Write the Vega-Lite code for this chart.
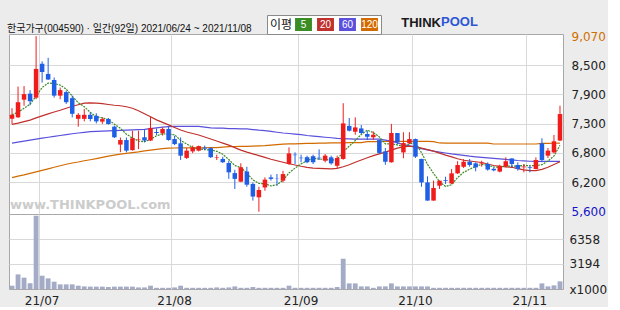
{
  "$schema": "https://vega.github.io/schema/vega-lite/v6.json",
  "background": "#ececec",
  "padding": {"left": 6, "top": 14, "right": 0, "bottom": 0},
  "spacing": 0,
  "bounds": "flush",
  "title": {"text": "POOL", "anchor": "start", "frame": "group", "fontSize": 13, "fontWeight": "bold", "font": "Liberation Sans", "color": "#2b56d6", "dx": 432, "dy": 18, "offset": 4},
  "config": {
    "view": {"stroke": "#a8a8a8", "fill": "white", "strokeWidth": 1},
    "font": "DejaVu Sans",
    "axis": {"gridColor": "#d9d9d9", "labelFont": "DejaVu Sans", "labelFontSize": 12, "labelColor": "#222", "ticks": false, "domain": false, "labelOverlap": false}
  },
  "data": {"values": [
    {"d":"2021-06-24","o":7430,"h":7640,"l":7330,"c":7510,"v":420,"m5":7510,"m20":7320,"m60":6950,"m120":6265},
    {"d":"2021-06-25","o":7460,"h":8070,"l":7450,"c":7760,"v":1860,"m5":7560,"m20":7345,"m60":6970,"m120":6295},
    {"d":"2021-06-28","o":7810,"h":8080,"l":7690,"c":7920,"v":1440,"m5":7640,"m20":7375,"m60":6990,"m120":6320},
    {"d":"2021-06-29","o":7930,"h":8000,"l":7700,"c":7780,"v":720,"m5":7720,"m20":7405,"m60":7010,"m120":6350},
    {"d":"2021-06-30","o":7850,"h":9070,"l":7820,"c":8420,"v":9320,"m5":7880,"m20":7450,"m60":7030,"m120":6380},
    {"d":"2021-07-01","o":8520,"h":8570,"l":8150,"c":8360,"v":1690,"m5":8050,"m20":7490,"m60":7048,"m120":6410},
    {"d":"2021-07-02","o":8320,"h":8640,"l":8200,"c":8210,"v":1350,"m5":8140,"m20":7530,"m60":7065,"m120":6440},
    {"d":"2021-07-05","o":8200,"h":8250,"l":7850,"c":7890,"v":930,"m5":8130,"m20":7565,"m60":7083,"m120":6470},
    {"d":"2021-07-06","o":7890,"h":8050,"l":7820,"c":8000,"v":590,"m5":8100,"m20":7600,"m60":7100,"m120":6500},
    {"d":"2021-07-07","o":7960,"h":7990,"l":7725,"c":7760,"v":590,"m5":8020,"m20":7640,"m60":7118,"m120":6530},
    {"d":"2021-07-08","o":7840,"h":7890,"l":7460,"c":7530,"v":590,"m5":7880,"m20":7680,"m60":7135,"m120":6555},
    {"d":"2021-07-09","o":7430,"h":7545,"l":7275,"c":7510,"v":420,"m5":7750,"m20":7710,"m60":7150,"m120":6575},
    {"d":"2021-07-12","o":7430,"h":7625,"l":7380,"c":7510,"v":330,"m5":7670,"m20":7740,"m60":7163,"m120":6600},
    {"d":"2021-07-13","o":7510,"h":7560,"l":7380,"c":7427,"v":300,"m5":7560,"m20":7745,"m60":7175,"m120":6620},
    {"d":"2021-07-14","o":7490,"h":7540,"l":7340,"c":7380,"v":300,"m5":7470,"m20":7740,"m60":7180,"m120":6640},
    {"d":"2021-07-15","o":7375,"h":7460,"l":7330,"c":7425,"v":300,"m5":7450,"m20":7730,"m60":7185,"m120":6665},
    {"d":"2021-07-16","o":7427,"h":7447,"l":7315,"c":7328,"v":250,"m5":7414,"m20":7715,"m60":7190,"m120":6690},
    {"d":"2021-07-19","o":7275,"h":7295,"l":7050,"c":7065,"v":300,"m5":7325,"m20":7700,"m60":7196,"m120":6710},
    {"d":"2021-07-20","o":6920,"h":7060,"l":6770,"c":7010,"v":300,"m5":7242,"m20":7690,"m60":7200,"m120":6730},
    {"d":"2021-07-21","o":7010,"h":7060,"l":6766,"c":6800,"v":300,"m5":7126,"m20":7670,"m60":7205,"m120":6745},
    {"d":"2021-07-22","o":6810,"h":7195,"l":6800,"c":7045,"v":300,"m5":7050,"m20":7640,"m60":7210,"m120":6760},
    {"d":"2021-07-23","o":7020,"h":7195,"l":6830,"c":7030,"v":200,"m5":6990,"m20":7590,"m60":7215,"m120":6775},
    {"d":"2021-07-26","o":7065,"h":7210,"l":6965,"c":7000,"v":200,"m5":6977,"m20":7530,"m60":7222,"m120":6795},
    {"d":"2021-07-27","o":7000,"h":7470,"l":6990,"c":7250,"v":420,"m5":7025,"m20":7470,"m60":7235,"m120":6810},
    {"d":"2021-07-28","o":7170,"h":7240,"l":7110,"c":7150,"v":150,"m5":7095,"m20":7410,"m60":7250,"m120":6825},
    {"d":"2021-07-29","o":7145,"h":7260,"l":7100,"c":7230,"v":150,"m5":7132,"m20":7360,"m60":7265,"m120":6840},
    {"d":"2021-07-30","o":7230,"h":7275,"l":6997,"c":7010,"v":150,"m5":7128,"m20":7310,"m60":7275,"m120":6850},
    {"d":"2021-08-02","o":7030,"h":7095,"l":6910,"c":6930,"v":200,"m5":7114,"m20":7260,"m60":7280,"m120":6852},
    {"d":"2021-08-03","o":6945,"h":7060,"l":6615,"c":6700,"v":420,"m5":7004,"m20":7210,"m60":7282,"m120":6853},
    {"d":"2021-08-04","o":6655,"h":6850,"l":6635,"c":6800,"v":150,"m5":6934,"m20":7170,"m60":7282,"m120":6854},
    {"d":"2021-08-05","o":6785,"h":6900,"l":6750,"c":6865,"v":150,"m5":6861,"m20":7140,"m60":7282,"m120":6855},
    {"d":"2021-08-06","o":6800,"h":6900,"l":6785,"c":6890,"v":150,"m5":6837,"m20":7110,"m60":7282,"m120":6856},
    {"d":"2021-08-09","o":6860,"h":6900,"l":6810,"c":6840,"v":150,"m5":6819,"m20":7070,"m60":7265,"m120":6857},
    {"d":"2021-08-10","o":6850,"h":6865,"l":6655,"c":6670,"v":150,"m5":6813,"m20":7030,"m60":7250,"m120":6858},
    {"d":"2021-08-11","o":6660,"h":6720,"l":6615,"c":6670,"v":200,"m5":6787,"m20":6990,"m60":7248,"m120":6860},
    {"d":"2021-08-12","o":6635,"h":6680,"l":6555,"c":6570,"v":150,"m5":6728,"m20":6950,"m60":7245,"m120":6870},
    {"d":"2021-08-13","o":6555,"h":6600,"l":6240,"c":6370,"v":200,"m5":6624,"m20":6910,"m60":7238,"m120":6880},
    {"d":"2021-08-17","o":6355,"h":6420,"l":6040,"c":6240,"v":330,"m5":6504,"m20":6860,"m60":7235,"m120":6882},
    {"d":"2021-08-18","o":6185,"h":6550,"l":6175,"c":6470,"v":150,"m5":6464,"m20":6810,"m60":7232,"m120":6884},
    {"d":"2021-08-19","o":6385,"h":6480,"l":6085,"c":6125,"v":150,"m5":6355,"m20":6770,"m60":7230,"m120":6886},
    {"d":"2021-08-20","o":6140,"h":6170,"l":5810,"c":5890,"v":250,"m5":6219,"m20":6735,"m60":7218,"m120":6890},
    {"d":"2021-08-23","o":5875,"h":6085,"l":5590,"c":6020,"v":150,"m5":6149,"m20":6700,"m60":7205,"m120":6895},
    {"d":"2021-08-24","o":6070,"h":6270,"l":6005,"c":6225,"v":150,"m5":6146,"m20":6665,"m60":7196,"m120":6900},
    {"d":"2021-08-25","o":6270,"h":6323,"l":6205,"c":6240,"v":150,"m5":6100,"m20":6630,"m60":7180,"m120":6910},
    {"d":"2021-08-26","o":6250,"h":6337,"l":6105,"c":6245,"v":150,"m5":6124,"m20":6600,"m60":7165,"m120":6920},
    {"d":"2021-08-27","o":6205,"h":6400,"l":6170,"c":6335,"v":150,"m5":6213,"m20":6570,"m60":7150,"m120":6930},
    {"d":"2021-08-30","o":6535,"h":6865,"l":6520,"c":6745,"v":420,"m5":6358,"m20":6540,"m60":7140,"m120":6933},
    {"d":"2021-08-31","o":6720,"h":6766,"l":6535,"c":6710,"v":150,"m5":6455,"m20":6515,"m60":7128,"m120":6936},
    {"d":"2021-09-01","o":6660,"h":6720,"l":6570,"c":6650,"v":150,"m5":6537,"m20":6490,"m60":7116,"m120":6940},
    {"d":"2021-09-02","o":6670,"h":6700,"l":6550,"c":6570,"v":150,"m5":6602,"m20":6470,"m60":7100,"m120":6942},
    {"d":"2021-09-03","o":6690,"h":6720,"l":6535,"c":6570,"v":150,"m5":6649,"m20":6455,"m60":7088,"m120":6945},
    {"d":"2021-09-06","o":6660,"h":6825,"l":6615,"c":6650,"v":150,"m5":6630,"m20":6450,"m60":7076,"m120":6948},
    {"d":"2021-09-07","o":6600,"h":6733,"l":6568,"c":6700,"v":150,"m5":6628,"m20":6445,"m60":7065,"m120":6950},
    {"d":"2021-09-08","o":6667,"h":6700,"l":6522,"c":6548,"v":150,"m5":6608,"m20":6440,"m60":7055,"m120":6955},
    {"d":"2021-09-09","o":6500,"h":6700,"l":6455,"c":6655,"v":250,"m5":6625,"m20":6450,"m60":7044,"m120":6955},
    {"d":"2021-09-10","o":6635,"h":7740,"l":6620,"c":7340,"v":3850,"m5":6779,"m20":6480,"m60":7038,"m120":6955},
    {"d":"2021-09-13","o":7290,"h":7447,"l":7180,"c":7195,"v":715,"m5":6888,"m20":6520,"m60":7034,"m120":6958},
    {"d":"2021-09-14","o":7175,"h":7460,"l":7115,"c":7260,"v":715,"m5":7000,"m20":6570,"m60":7030,"m120":6960},
    {"d":"2021-09-15","o":7240,"h":7308,"l":7130,"c":7150,"v":330,"m5":7120,"m20":6614,"m60":7030,"m120":6960},
    {"d":"2021-09-16","o":7130,"h":7195,"l":7010,"c":7075,"v":330,"m5":7204,"m20":6660,"m60":7030,"m120":6978},
    {"d":"2021-09-17","o":7065,"h":7180,"l":7010,"c":7115,"v":150,"m5":7159,"m20":6700,"m60":7030,"m120":6980},
    {"d":"2021-09-23","o":7010,"h":7010,"l":6733,"c":6755,"v":330,"m5":7071,"m20":6735,"m60":7030,"m120":6980},
    {"d":"2021-09-24","o":6785,"h":6852,"l":6520,"c":6580,"v":330,"m5":6935,"m20":6770,"m60":7010,"m120":6982},
    {"d":"2021-09-27","o":6570,"h":7330,"l":6560,"c":7150,"v":715,"m5":6935,"m20":6810,"m60":6990,"m120":6983},
    {"d":"2021-09-28","o":7150,"h":7150,"l":6930,"c":6965,"v":330,"m5":6913,"m20":6850,"m60":6955,"m120":6984},
    {"d":"2021-09-29","o":6765,"h":7165,"l":6650,"c":6950,"v":330,"m5":6880,"m20":6875,"m60":6920,"m120":6985},
    {"d":"2021-09-30","o":6945,"h":7165,"l":6930,"c":7030,"v":330,"m5":6935,"m20":6890,"m60":6893,"m120":6985},
    {"d":"2021-10-01","o":7030,"h":7040,"l":6655,"c":6680,"v":330,"m5":6955,"m20":6880,"m60":6866,"m120":6985},
    {"d":"2021-10-05","o":6635,"h":6640,"l":6085,"c":6170,"v":330,"m5":6759,"m20":6850,"m60":6840,"m120":6985},
    {"d":"2021-10-06","o":6170,"h":6290,"l":5808,"c":5810,"v":330,"m5":6528,"m20":6820,"m60":6815,"m120":6985},
    {"d":"2021-10-07","o":5810,"h":6205,"l":5808,"c":6060,"v":150,"m5":6350,"m20":6790,"m60":6790,"m120":6980},
    {"d":"2021-10-08","o":6105,"h":6210,"l":6040,"c":6205,"v":150,"m5":6185,"m20":6750,"m60":6772,"m120":6952},
    {"d":"2021-10-12","o":6215,"h":6283,"l":6138,"c":6200,"v":150,"m5":6089,"m20":6710,"m60":6753,"m120":6950},
    {"d":"2021-10-13","o":6150,"h":6435,"l":6138,"c":6350,"v":150,"m5":6125,"m20":6675,"m60":6735,"m120":6950},
    {"d":"2021-10-14","o":6350,"h":6590,"l":6337,"c":6515,"v":150,"m5":6266,"m20":6640,"m60":6720,"m120":6950},
    {"d":"2021-10-15","o":6480,"h":6634,"l":6456,"c":6580,"v":150,"m5":6370,"m20":6610,"m60":6705,"m120":6950},
    {"d":"2021-10-18","o":6580,"h":6634,"l":6482,"c":6515,"v":150,"m5":6432,"m20":6595,"m60":6690,"m120":6950},
    {"d":"2021-10-19","o":6548,"h":6568,"l":6390,"c":6469,"v":150,"m5":6486,"m20":6580,"m60":6678,"m120":6950},
    {"d":"2021-10-20","o":6545,"h":6600,"l":6482,"c":6560,"v":150,"m5":6528,"m20":6565,"m60":6667,"m120":6950},
    {"d":"2021-10-21","o":6535,"h":6568,"l":6403,"c":6425,"v":150,"m5":6510,"m20":6535,"m60":6657,"m120":6950},
    {"d":"2021-10-22","o":6440,"h":6469,"l":6390,"c":6410,"v":150,"m5":6476,"m20":6505,"m60":6647,"m120":6932},
    {"d":"2021-10-25","o":6385,"h":6522,"l":6370,"c":6500,"v":150,"m5":6473,"m20":6490,"m60":6636,"m120":6932},
    {"d":"2021-10-26","o":6490,"h":6667,"l":6469,"c":6590,"v":150,"m5":6497,"m20":6480,"m60":6626,"m120":6932},
    {"d":"2021-10-27","o":6645,"h":6647,"l":6470,"c":6535,"v":150,"m5":6492,"m20":6470,"m60":6615,"m120":6932},
    {"d":"2021-10-28","o":6515,"h":6568,"l":6403,"c":6435,"v":150,"m5":6494,"m20":6445,"m60":6605,"m120":6932},
    {"d":"2021-10-29","o":6470,"h":6535,"l":6370,"c":6485,"v":150,"m5":6509,"m20":6420,"m60":6598,"m120":6932},
    {"d":"2021-11-01","o":6470,"h":6502,"l":6370,"c":6455,"v":150,"m5":6500,"m20":6405,"m60":6590,"m120":6932},
    {"d":"2021-11-02","o":6435,"h":6667,"l":6430,"c":6615,"v":150,"m5":6505,"m20":6405,"m60":6588,"m120":6932},
    {"d":"2021-11-03","o":6945,"h":7045,"l":6570,"c":6615,"v":715,"m5":6521,"m20":6430,"m60":6588,"m120":6945},
    {"d":"2021-11-04","o":6700,"h":6852,"l":6654,"c":6800,"v":330,"m5":6594,"m20":6470,"m60":6588,"m120":6945},
    {"d":"2021-11-05","o":6765,"h":7110,"l":6745,"c":6985,"v":460,"m5":6694,"m20":6525,"m60":6588,"m120":6946},
    {"d":"2021-11-08","o":7000,"h":7690,"l":6990,"c":7525,"v":970,"m5":6908,"m20":6580,"m60":6588,"m120":6947}
  ]},
  "vconcat": [
    {
      "width": 554,
      "height": 180,
      "title": {"text": "한국가구(004590) · 일간(92일) 2021/06/24 ~ 2021/11/08", "anchor": "start", "frame": "group", "fontSize": 10, "fontWeight": "normal", "font": "Liberation Sans, Noto Sans CJK KR", "color": "#111", "offset": 0, "dx": -2, "dy": 4},
      "layer": [
        {
          "mark": {"type": "line", "strokeWidth": 1.2, "color": "#d26a00"},
          "encoding": {
            "x": {"field": "d", "type": "ordinal", "scale": {"paddingInner": 0, "paddingOuter": 0}, "axis": {"values": ["2021-07-01","2021-08-02","2021-09-01","2021-10-01","2021-11-01"], "bandPosition": 0, "labels": false, "grid": true, "title": null}},
            "y": {"field": "m120", "type": "quantitative", "title": null, "scale": {"domain": [5544, 9112], "nice": false, "zero": false},
              "axis": {"orient": "right", "values": [9070, 8492, 7913, 7335, 6757, 6178, 5600], "tickCount": 20, "labelOverlap": false, "labelSeparation": 0,
                "labelExpr": "datum.value == 8492 ? '8,500' : datum.value == 7913 ? '7,900' : datum.value == 7335 ? '7,300' : datum.value == 6757 ? '6,800' : datum.value == 6178 ? '6,200' : datum.label",
                "labelColor": {"condition": [{"test": "datum.value == 9070", "value": "#d07000"}, {"test": "datum.value == 5600", "value": "#1414c8"}], "value": "#222"},
                "gridColor": {"condition": {"test": "datum.value == 9070 || datum.value == 5600", "value": "transparent"}, "value": "#d9d9d9"},
                "labelPadding": 8}}
          }
        },
        {
          "mark": {"type": "line", "strokeWidth": 1.2, "color": "#5a50dc"},
          "encoding": {
            "x": {"field": "d", "type": "ordinal"},
            "y": {"field": "m60", "type": "quantitative", "title": null}
          }
        },
        {
          "mark": {"type": "line", "strokeWidth": 1.2, "color": "#c0302c"},
          "encoding": {
            "x": {"field": "d", "type": "ordinal"},
            "y": {"field": "m20", "type": "quantitative", "title": null}
          }
        },
        {
          "mark": {"type": "line", "strokeWidth": 1.2, "strokeDash": [2, 1], "color": "#3a8c24"},
          "encoding": {
            "x": {"field": "d", "type": "ordinal"},
            "y": {"field": "m5", "type": "quantitative", "title": null}
          }
        },
        {
          "mark": {"type": "rule", "strokeWidth": 1},
          "encoding": {
            "x": {"field": "d", "type": "ordinal"},
            "y": {"field": "l", "type": "quantitative", "title": null},
            "y2": {"field": "h"},
            "color": {"condition": {"test": "datum.c >= datum.o", "value": "#f01c1c"}, "value": "#1f5fe6"}
          }
        },
        {
          "mark": {"type": "bar", "width": {"band": 0.75}},
          "encoding": {
            "x": {"field": "d", "type": "ordinal"},
            "y": {"field": "o", "type": "quantitative", "title": null},
            "y2": {"field": "c"},
            "color": {"condition": {"test": "datum.c >= datum.o", "value": "#f01c1c"}, "value": "#1f5fe6"}
          }
        },
        {
          "data": {"values": [{"t": "www.THINKPOOL.com"}]},
          "mark": {"type": "text", "fontSize": 13, "fontWeight": "bold", "color": "#cccccc", "align": "center", "baseline": "middle"},
          "encoding": {
            "x": {"datum": "2021-07-13", "type": "ordinal"},
            "y": {"datum": 5720, "type": "quantitative"},
            "text": {"field": "t"}
          }
        },
        {
          "data": {"values": [{"k": "5"}, {"k": "20"}, {"k": "60"}, {"k": "120"}]},
          "mark": {"type": "square", "opacity": 0},
          "encoding": {
            "x": {"datum": "2021-07-13", "type": "ordinal"},
            "y": {"datum": 7000, "type": "quantitative"},
            "color": {"field": "k", "type": "nominal",
              "scale": {"domain": ["5", "20", "60", "120"], "range": ["#3a8c24", "#c0302c", "#5a50dc", "#d26a00"]},
              "legend": {"orient": "none", "legendX": 258, "legendY": -19, "direction": "horizontal", "title": "이평", "titleOrient": "left", "titleFont": "Noto Sans CJK KR", "titleFontSize": 12, "titleFontWeight": "normal", "titleColor": "#111", "titlePadding": 4,
                "symbolType": "M-1.3,-1H1.3V1H-1.3Z", "symbolSize": 169, "symbolStrokeWidth": 0, "symbolOpacity": 1, "labelAlign": "center", "labelOffset": -6.5, "labelColor": "white", "labelFontSize": 10, "labelFont": "Liberation Sans", "columnPadding": 5,
                "fillColor": "white", "strokeColor": "#8a8a8a", "padding": 3}
            }
          }
        }
      ]
    },
    {
      "width": 554,
      "height": 75,
      "title": {"text": "THINK", "anchor": "end", "frame": "group", "fontSize": 13, "fontWeight": "bold", "font": "Liberation Sans", "color": "#1a1a1a", "dx": -122, "dy": -180, "offset": 4},
      "mark": {"type": "bar", "width": {"band": 0.8}, "color": "#a3abc6"},
      "encoding": {
        "x": {"field": "d", "type": "ordinal", "scale": {"paddingInner": 0, "paddingOuter": 0},
          "axis": {"values": ["2021-07-01","2021-08-02","2021-09-01","2021-10-01","2021-11-01"], "bandPosition": 0, "labelExpr": "'21/' + substring(datum.value, 5, 7)", "grid": true, "labelPadding": 6, "labelAngle": 0, "title": null}},
        "y": {"field": "v", "type": "quantitative", "title": null, "scale": {"domain": [0, 9540], "nice": false},
          "axis": {"orient": "right", "values": [0, 3194, 6358], "tickCount": 10, "labelExpr": "datum.value == 0 ? 'x1000' : '' + datum.value", "labelOverlap": false,
            "gridColor": {"condition": {"test": "datum.value == 0", "value": "transparent"}, "value": "#d9d9d9"}, "labelPadding": 6}}
      }
    }
  ]
}
